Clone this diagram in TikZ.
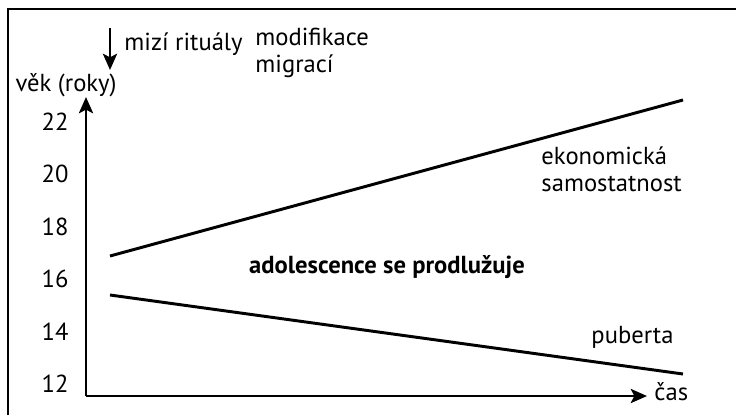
\documentclass[tikz,border=0pt]{standalone}
\usepackage{fontspec}
\setmainfont{PT Sans}
\usetikzlibrary{arrows.meta, positioning}

\begin{document}
\begin{tikzpicture}[x=0.025cm, y=-0.025cm, line width=2.1pt,
  axisarrow/.style={-{Stealth[length=11.5pt, width=10pt, inset=2.5pt]}},
  lbl/.style={inner sep=0pt, font=\fontsize{17.5}{19.2}\selectfont},
  boldlbl/.style={lbl, font=\fontsize{17.5}{19.2}\selectfont\bfseries}]
\useasboundingbox (0,0) rectangle (736,415);

% Frame
\draw (8,415) -- (8,9) -- (736,9);

% Axes
\coordinate (O) at (86,396);
\coordinate (ytip) at (86,97);
\coordinate (xtip) at (647,396);
\node[lbl, anchor=base] (vek) at (66,91) {věk (roky)};
\node[lbl, anchor=base west] (cas) at (653,400) {čas};
\draw[axisarrow] (O) -- (ytip);
\draw[axisarrow] (O) -- (xtip);

% Age labels
\foreach \v in {12,14,...,22} {
  \node[lbl, anchor=base east] (age\v) at (70,{392.5-(\v-12)*26.25}) {\v};
}

% Trends
\coordinate (econA) at (110,256);
\coordinate (econB) at (683,100);
\coordinate (pubA) at (110,295);
\coordinate (pubB) at (683,374);
\draw (econA) -- (econB);
\draw (pubA) -- (pubB);
\node[lbl, anchor=north west, align=left] (econ) at (540,145) {ekonomická\\samostatnost};
\node[lbl, anchor=base west] (pub) at (590,343) {puberta};
\node[boldlbl, anchor=base] (adol) at (387,273) {adolescence se prodlužuje};

% Rituals and migration
\coordinate (ritA) at (110,28);
\coordinate (ritB) at (110,70);
\draw[axisarrow] (ritA) -- (ritB);
\node[lbl, anchor=base west] (rit) at (123,50) {mizí rituály};
\node[lbl, anchor=north west, align=left] (mig) at (254,27) {modifikace\\migrací};
\end{tikzpicture}
\end{document}
